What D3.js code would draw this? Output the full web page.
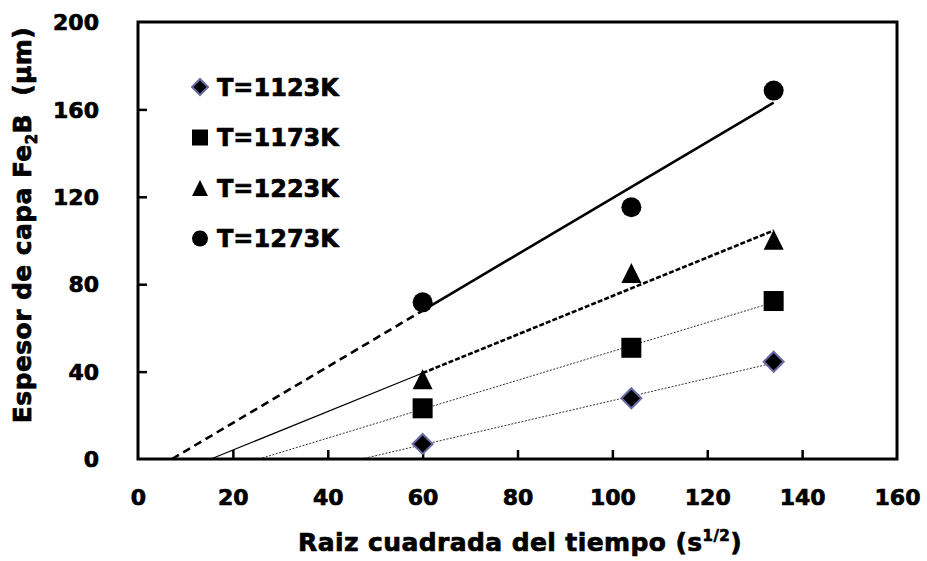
<!DOCTYPE html>
<html>
<head>
<meta charset="utf-8">
<script src="https://cdn.jsdelivr.net/npm/d3@7"></script>
<style>
  html, body { margin: 0; padding: 0; background: #fff; }
  svg { display: block; }
  text { font-family: "DejaVu Sans", sans-serif; font-weight: bold; fill: #000; white-space: pre; }
  .heavy { stroke: #000; stroke-width: 0.7px; stroke-linejoin: round; }
</style>
</head>
<body>
<svg id="chart" width="927" height="561"></svg>
<script>
// ---- data ----
const timeRoot = [60, 104, 134];
const seriesNames = ["T=1123K", "T=1173K", "T=1223K", "T=1273K"];
const thk1123 = [6.9, 27.8, 44.5];
const thk1173 = [23.2, 50.9, 72.3];
const thk1223 = [36.5, 85.1, 100.4];
const thk1273 = [71.7, 115.2, 168.6];
const xTicks = [0, 20, 40, 60, 80, 100, 120, 140, 160];
const yTicks = [0, 40, 80, 120, 160, 200];

const seriesValues = [thk1123, thk1173, thk1223, thk1273];
const markerTypes = ["diamond", "square", "triangle", "circle"];

// ---- layout ----
const svg = d3.select("#chart");
const L = 138, R = 897, T = 22, B = 459;
const x = d3.scaleLinear().domain([0, 160]).range([L, R]);
const y = d3.scaleLinear().domain([0, 200]).range([B, T]);

// line styles: [segment before 1st point, segment after 1st point]
const segStyles = [
  [{w: 1, dash: "2,1.5", c: "#333"}, {w: 1, dash: "2,1.5", c: "#333"}],
  [{w: 1, dash: "2,1.5", c: "#333"}, {w: 1, dash: "2,1.5", c: "#333"}],
  [{w: 1.2, dash: null, c: "#000"}, {w: 2.6, dash: "5,2", c: "#000"}],
  [{w: 2.6, dash: "8,5", c: "#000"}, {w: 2.6, dash: null, c: "#000"}]
];

// least-squares fit lines from data
function fit(xs, ys) {
  const mx = d3.mean(xs), my = d3.mean(ys);
  let sxy = 0, sxx = 0;
  xs.forEach((v, i) => { sxy += (v - mx) * (ys[i] - my); sxx += (v - mx) ** 2; });
  const m = sxy / sxx;
  return {m, b: my - m * mx};
}

const lineG = svg.append("g");
seriesValues.forEach((vals, i) => {
  const f = fit(timeRoot, vals);
  const x0 = -f.b / f.m;
  const xMid = timeRoot[0];
  const xEnd = timeRoot[timeRoot.length - 1];
  const segs = [[x0, xMid], [xMid, xEnd]];
  segs.forEach((s, k) => {
    const st = segStyles[i][k];
    const ln = lineG.append("line")
      .attr("x1", x(s[0])).attr("y1", y(f.m * s[0] + f.b))
      .attr("x2", x(s[1])).attr("y2", y(f.m * s[1] + f.b))
      .attr("stroke", st.c).attr("stroke-width", st.w);
    if (st.dash) ln.attr("stroke-dasharray", st.dash);
  });
});

// frame
svg.append("rect").attr("x", L).attr("y", T).attr("width", R - L).attr("height", B - T)
  .attr("fill", "none").attr("stroke", "#000").attr("stroke-width", 3);

// axes ticks (inside)
const xAxis = d3.axisBottom(x).tickValues(xTicks).tickSizeInner(-9).tickSizeOuter(0).tickFormat(d3.format("d"));
const gx = svg.append("g").attr("transform", `translate(0,${B})`).call(xAxis);
gx.select(".domain").remove();
gx.selectAll(".tick line").attr("stroke", "#000").attr("stroke-width", 2.5)
  .filter(d => d === 0 || d === 160).remove();
gx.selectAll(".tick text").attr("y", 0).attr("dy", "1.75em").attr("font-size", 22)
  .attr("font-family", "DejaVu Sans").attr("font-weight", "bold").attr("class", "heavy")
  .attr("transform", "translate(0,7)");

const yAxis = d3.axisLeft(y).tickValues(yTicks).tickSizeInner(-9).tickSizeOuter(0).tickFormat(d3.format("d"));
const gy = svg.append("g").attr("transform", `translate(${L},0)`).call(yAxis);
gy.select(".domain").remove();
gy.selectAll(".tick line").attr("stroke", "#000").attr("stroke-width", 2.5)
  .filter(d => d === 0 || d === 200).remove();
gy.selectAll(".tick text").attr("x", -39).attr("dy", "0.35em").attr("font-size", 22)
  .attr("font-family", "DejaVu Sans").attr("font-weight", "bold").attr("class", "heavy")
  .attr("text-anchor", "end");

// markers
function drawMarker(g, type, cx, cy, s) {
  if (type === "diamond") {
    const h = s / 2;
    g.append("path").attr("d", `M${cx},${cy - h}L${cx + h},${cy}L${cx},${cy + h}L${cx - h},${cy}Z`)
      .attr("fill", "#000").attr("stroke", "#6a6aa6").attr("stroke-width", 2);
  } else if (type === "square") {
    g.append("rect").attr("x", cx - s / 2).attr("y", cy - s / 2).attr("width", s).attr("height", s).attr("fill", "#000");
  } else if (type === "triangle") {
    const h = s / 2;
    g.append("path").attr("d", `M${cx},${cy - h}L${cx + h},${cy + h}L${cx - h},${cy + h}Z`).attr("fill", "#000");
  } else {
    g.append("circle").attr("cx", cx).attr("cy", cy).attr("r", s / 2).attr("fill", "#000");
  }
}
const mg = svg.append("g");
seriesValues.forEach((vals, i) => {
  vals.forEach((v, j) => drawMarker(mg, markerTypes[i], x(timeRoot[j]), y(v), 20));
});

// legend
const lg = svg.append("g");
seriesNames.forEach((n, i) => {
  const cy = 87 + i * 50.5;
  drawMarker(lg, markerTypes[i], 200, cy, 16);
  lg.append("text").attr("x", 217).attr("y", cy).attr("dy", "0.36em").attr("class", "heavy")
    .attr("font-size", 24).text(n);
});

// axis titles
const xt = svg.append("text").attr("x", 520).attr("y", 551).attr("text-anchor", "middle")
  .attr("font-size", 25).attr("letter-spacing", 0.4).attr("class", "heavy");
xt.append("tspan").text("Raiz cuadrada del tiempo (s");
xt.append("tspan").attr("font-size", 15).attr("dy", -10).text("1/2");
xt.append("tspan").attr("dy", 10).text(")");

const yt = svg.append("text").attr("transform", "translate(31,225) rotate(-90)").attr("text-anchor", "middle")
  .attr("font-size", 25).attr("letter-spacing", 0.4).attr("class", "heavy");
yt.append("tspan").text("Espesor de capa Fe");
yt.append("tspan").attr("font-size", 15).attr("dy", 6).text("2");
yt.append("tspan").attr("dy", -6).text("B  (µm)");
</script>
</body>
</html>
